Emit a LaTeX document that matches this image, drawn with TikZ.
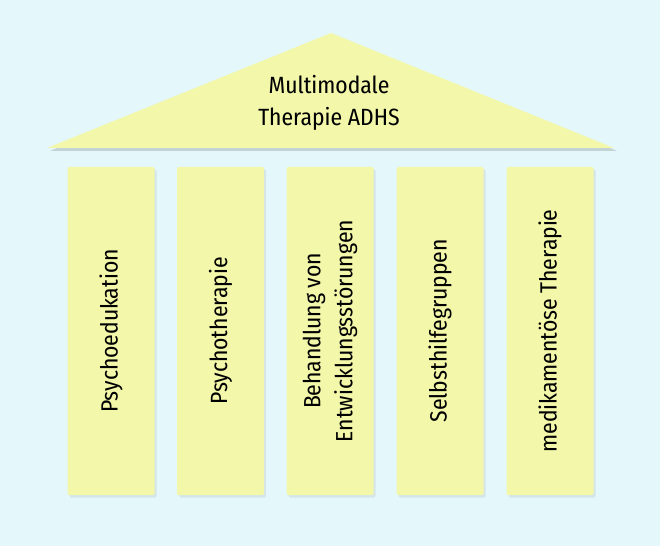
\documentclass[tikz,border=0pt]{standalone}
\usepackage{xcolor}
\usepackage{fontspec}
\setmainfont{Fira Sans Condensed}
\usepackage{tikz}
\usetikzlibrary{shadows}

\definecolor{bgcyan}{HTML}{E4F7FB}
\definecolor{pillaryellow}{HTML}{F2F7A9}

\tikzset{
  pillar/.style={fill=pillaryellow, minimum width=87pt, minimum height=328pt,
    inner sep=0pt, rounded corners=1.5pt,
    drop shadow={opacity=0.15, shadow xshift=2pt, shadow yshift=-2.5pt}},
  pillartext/.style={rotate=90, align=center, inner sep=0pt},
}

\begin{document}
\begin{tikzpicture}[x=1pt,y=1pt]
                % background and page size
                \fill [bgcyan] (0,0) rectangle (660,546);
                \useasboundingbox (0,0) rectangle (660,546);
                {\fontsize{23.5}{32}\selectfont

                % Drawing roof
                \fill [black, opacity=0.15] (50,395) -- (333,511) -- (617,395) -- cycle;%
                \fill [pillaryellow] (47,398) -- (331,513) -- (614,398) -- cycle;%
                \node [align=center, inner sep=0pt] (roof) at (329,443) {Multimodale\\Therapie ADHS};%

                % Drawing pillars
                \node [pillar] (p1) at (111,215) {};%
                \node [pillar] (p2) at (220.5,215) {};%
                \node [pillar] (p3) at (330,215) {};%
                \node [pillar] (p4) at (440,215) {};%
                \node [pillar] (p5) at (550,215) {};%

                % Pillar labels
                \node [pillartext] (t1) at (p1) {Psychoedukation};%
                \node [pillartext] (t2) at (p2) {Psychotherapie};%
                \node [pillartext] (t3) at (p3) {Behandlung von\\Entwicklungsstörungen};%
                \node [pillartext] (t4) at (p4) {Selbsthilfegruppen};%
                \node [pillartext] (t5) at (p5) {medikamentöse Therapie};%
                }
\end{tikzpicture}
\end{document}
